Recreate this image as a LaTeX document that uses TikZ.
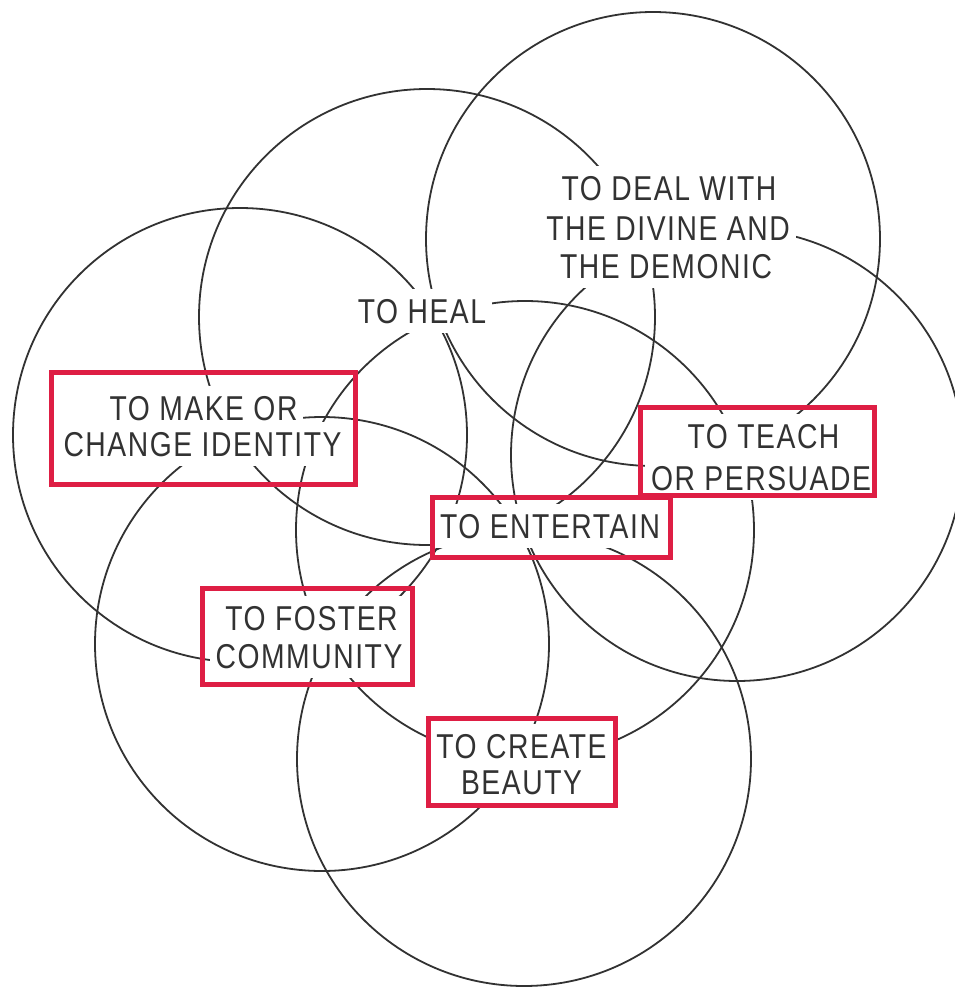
\documentclass[tikz,border=0pt]{standalone}
\usepackage{fontspec}
\setmainfont{Liberation Sans}[FakeStretch=0.82, LetterSpace=4.5]
\usetikzlibrary{fit}
\definecolor{boxred}{RGB}{222,30,68}
\definecolor{ink}{RGB}{50,50,50}
\begin{document}
\begin{tikzpicture}[x=1pt,y=-1pt,
  ring/.style={draw=ink, line width=1.8pt},
  word/.style={fill=white, text=ink, inner xsep=6pt, inner ysep=10pt,
    text height=24.5pt, text depth=0pt, anchor=base,
    font=\fontsize{34.5}{40}\selectfont},
  redbox/.style={draw=boxred, line width=5pt, inner sep=0pt}]
\useasboundingbox (0,0) rectangle (955,988);
\clip (0,0) rectangle (955,988);
\fill[white] (0,0) rectangle (955,988);

% centres of the seven overlapping circles
\coordinate (c1) at (653,239);   % divine / demonic
\coordinate (c2) at (427,317);   % heal
\coordinate (c3) at (737,455);   % teach
\coordinate (c4) at (524,759);   % beauty
\coordinate (c5) at (322,644);   % community
\coordinate (c6) at (240,435);   % identity
\coordinate (c7) at (525,530);   % entertain

\draw[ring] (c1) circle[radius=227pt];
\draw[ring] (c2) circle[radius=228pt];
\draw[ring] (c3) circle[radius=226pt];
\draw[ring] (c4) circle[radius=227pt];
\draw[ring] (c5) circle[radius=227pt];
\draw[ring] (c6) circle[radius=227pt];
\draw[ring] (c7) circle[radius=229pt];

% labels, one white-backed node per line
\node[word] (deal1) at (669,200) {TO DEAL WITH};
\node[word] (deal2) at (668,240) {THE DIVINE AND};
\node[word] (deal3) at (666,278) {THE DEMONIC};

\node[word] (heal) at (422,323) {TO HEAL};

\node[word] (make1) at (203.5,420) {TO MAKE OR};
\node[word] (make2) at (202.5,456) {CHANGE IDENTITY};

\node[word] (teach1) at (763.5,448) {TO TEACH};
\node[word] (teach2) at (761,490) {OR PERSUADE};

\node[word] (enter) at (550,538) {TO ENTERTAIN};

\node[word] (foster1) at (311.5,630) {TO FOSTER};
\node[word] (foster2) at (309,668) {COMMUNITY};

\node[word] (create1) at (521.5,758) {TO CREATE};
\node[word] (create2) at (521.5,794) {BEAUTY};

% red frames
\node[redbox, fit={(51.5,372.5) (355,484)}] (makebox) {};
\node[redbox, fit={(640,407.5) (874.5,495.5)}] (teachbox) {};
\node[redbox, fit={(432.5,497.5) (670,557.5)}] (enterbox) {};
\node[redbox, fit={(202.5,588.5) (412.5,684)}] (fosterbox) {};
\node[redbox, fit={(428.5,718.5) (615.5,805.5)}] (createbox) {};
\end{tikzpicture}
\end{document}
